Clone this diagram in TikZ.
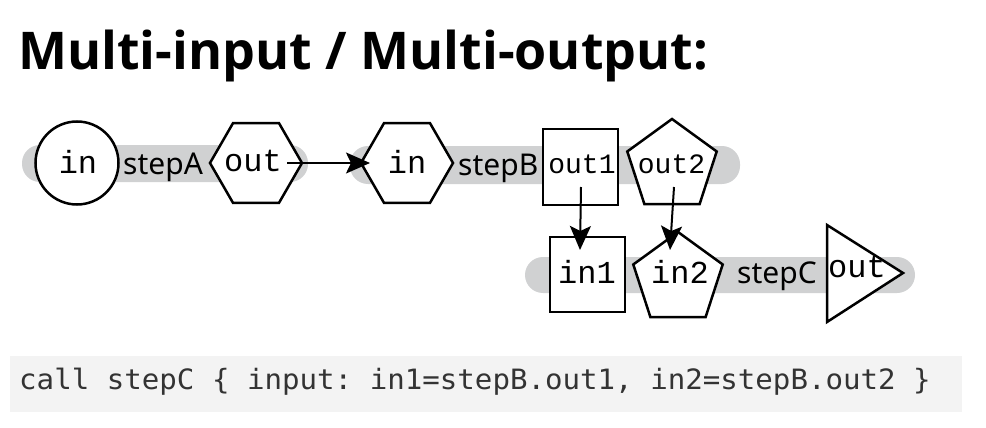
\documentclass[tikz,border=0pt]{standalone}
\usepackage{fontspec}
\setmainfont{Noto Sans}
\newfontfamily\titlefont{Open Sans}
\newfontfamily\labelfont{Noto Sans}
\newfontfamily\portfont{Liberation Mono}
\newfontfamily\codefont{DejaVu Sans Mono}[FakeStretch=1.04]
\usetikzlibrary{shapes.geometric,arrows.meta}
\definecolor{pillgray}{RGB}{208,209,210}
\definecolor{codebg}{RGB}{243,243,243}
\definecolor{codetext}{RGB}{51,51,51}
\tikzset{
  shp/.style={draw, line width=2.5pt, fill=white, inner sep=0pt},
  hexa/.style={shp, regular polygon, regular polygon sides=6, minimum size=92pt},
  penta/.style={shp, regular polygon, regular polygon sides=5, minimum size=94pt},
  porttext/.style={inner sep=0pt, anchor=base, font=\portfont\fontsize{32}{32}\selectfont},
  smallport/.style={porttext, font=\portfont\fontsize{28}{28}\selectfont},
  steplabel/.style={inner sep=0pt, anchor=base west, font=\labelfont\fontsize{30}{30}\selectfont},
  pill/.style={fill=pillgray, rounded corners=18pt},
  arr/.style={line width=2pt, -{Stealth[length=24pt, width=21pt, inset=5pt]}},
}
\begin{document}
\begin{tikzpicture}[x=1pt,y=-1pt]
\useasboundingbox (0,0) rectangle (986,428);
% title
\node[inner sep=0pt, anchor=base west, font=\titlefont\bfseries\fontsize{52}{52}\selectfont] (title) at (18,70) {Multi-input / Multi-output:};
% pills
\fill[pill] (22,145) rectangle (308,182);
\fill[pill] (350,146) rectangle (740,184);
\fill[pill] (525,257) rectangle (915,293);
% step A
\node[shp, circle, minimum size=83pt] (inA) at (77,163) {};
\node[porttext] (inAt) at (78,173) {in};
\node[steplabel] (stepA) at (123,174) {stepA};
\node[hexa] (outA) at (256,163) {};
\node[porttext] (outAt) at (253,171) {out};
% step B
\node[hexa] (inB) at (407,163) {};
\node[porttext] (inBt) at (407,173) {in};
\node[steplabel] (stepB) at (458,175) {stepB};
\node[shp, rectangle, minimum width=75pt, minimum height=76pt] (out1) at (580.5,167) {};
\node[smallport] (out1t) at (582,173) {out1};
\node[penta] (out2) at (672,166) {};
\node[smallport] (out2t) at (671.5,173) {out2};
% step C
\node[shp, rectangle, minimum size=75pt] (in1) at (587.5,274.5) {};
\node[porttext] (in1t) at (587,283) {in1};
\node[penta] (in2) at (678,279) {};
\node[porttext] (in2t) at (680,283) {in2};
\node[steplabel] (stepC) at (737,283) {stepC};
\draw[line width=2.5pt, fill=white] (827,225) -- (903,273) -- (827,322) -- cycle;
\node[porttext] (outCt) at (857,277) {out};
% connectors
\coordinate (a1s) at (287,163);
\coordinate (a1e) at (370,163);
\draw[arr] (a1s) -- (a1e);
\coordinate (a2s) at (581,187);
\coordinate (a2e) at (580,250);
\draw[arr] (a2s) -- (a2e);
\coordinate (a3s) at (674,187);
\coordinate (a3e) at (670,250);
\draw[arr] (a3s) -- (a3e);
% code
\fill[codebg] (10,356) rectangle (962,412);
\node[inner sep=0pt, anchor=base west, text=codetext, font=\codefont\frenchspacing\fontsize{28}{28}\selectfont] (code) at (19,389) {call stepC \{ input: in1=stepB.out1, in2=stepB.out2 \}};
\end{tikzpicture}
\end{document}
